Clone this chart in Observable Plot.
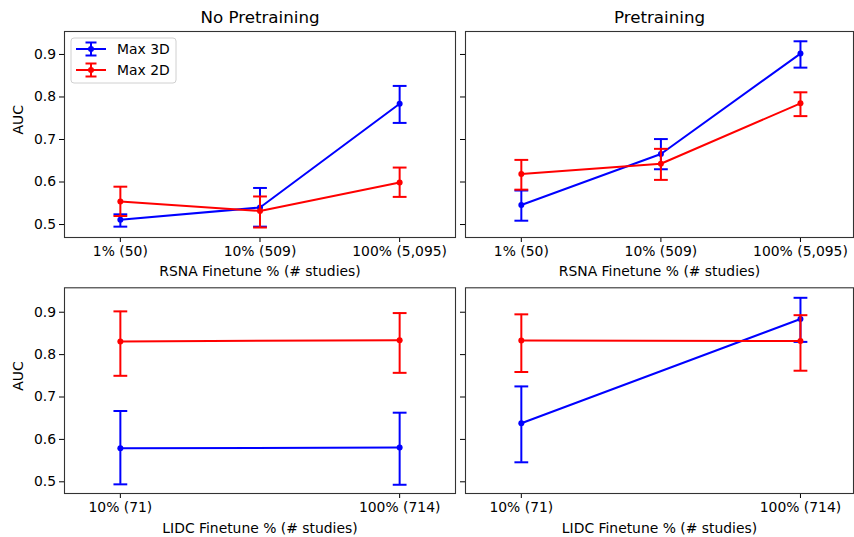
<!DOCTYPE html>
<html><head><meta charset="utf-8">
<script src="https://cdn.jsdelivr.net/npm/d3@7"></script>
<script src="https://cdn.jsdelivr.net/npm/@observablehq/plot@0.6"></script>
<style>
body{margin:0;background:#fff;}
#chart{position:relative;width:854px;height:537px;font-family:"DejaVu Sans",sans-serif;}
#chart > .panel{position:absolute;}
</style></head><body><div id="chart"></div>
<script>
// ---- data ----
const rsnaTicks = ["1% (50)", "10% (509)", "100% (5,095)"];
const lidcTicks = ["10% (71)", "100% (714)"];
const yTicks = [0.5, 0.6, 0.7, 0.8, 0.9];
const seriesNames = ["Max 3D", "Max 2D"];
const seriesColors = ["#0000ff", "#ff0000"];

// RSNA, No Pretraining
const rsnaNoPre3D_mean = [0.511, 0.540, 0.784];
const rsnaNoPre3D_lo   = [0.495, 0.495, 0.739];
const rsnaNoPre3D_hi   = [0.524, 0.586, 0.826];
const rsnaNoPre2D_mean = [0.554, 0.532, 0.599];
const rsnaNoPre2D_lo   = [0.520, 0.493, 0.565];
const rsnaNoPre2D_hi   = [0.589, 0.566, 0.634];
// RSNA, Pretraining
const rsnaPre3D_mean = [0.546, 0.666, 0.902];
const rsnaPre3D_lo   = [0.509, 0.630, 0.869];
const rsnaPre3D_hi   = [0.580, 0.701, 0.931];
const rsnaPre2D_mean = [0.619, 0.643, 0.785];
const rsnaPre2D_lo   = [0.582, 0.605, 0.755];
const rsnaPre2D_hi   = [0.652, 0.678, 0.811];
// LIDC, No Pretraining
const lidcNoPre3D_mean = [0.579, 0.581];
const lidcNoPre3D_lo   = [0.494, 0.493];
const lidcNoPre3D_hi   = [0.667, 0.663];
const lidcNoPre2D_mean = [0.831, 0.834];
const lidcNoPre2D_lo   = [0.750, 0.757];
const lidcNoPre2D_hi   = [0.902, 0.898];
// LIDC, Pretraining
const lidcPre3D_mean = [0.638, 0.884];
const lidcPre3D_lo   = [0.546, 0.830];
const lidcPre3D_hi   = [0.725, 0.934];
const lidcPre2D_mean = [0.833, 0.832];
const lidcPre2D_lo   = [0.759, 0.762];
const lidcPre2D_hi   = [0.895, 0.893];

// ---- helpers ----
function rows(mean, lo, hi) {
  return mean.map((m, i) => ({x: i, mean: m, lo: lo[i], hi: hi[i]}));
}
const capSymbol = {
  draw(ctx, size) {
    const r = Math.sqrt(size / Math.PI);
    ctx.moveTo(-r, 0); ctx.lineTo(r, 0);
  }
};

function panel(o) {
  const marks = [Plot.frame({stroke: "#333", strokeWidth: 1.1})];
  o.series.forEach((data, k) => {
    const c = seriesColors[k];
    marks.push(
      Plot.ruleX(data, {x: "x", y1: "lo", y2: "hi", stroke: c, strokeWidth: 2}),
      Plot.dot(data, {x: "x", y: "lo", symbol: capSymbol, r: 6.9, stroke: c, strokeWidth: 2, fill: "none"}),
      Plot.dot(data, {x: "x", y: "hi", symbol: capSymbol, r: 6.9, stroke: c, strokeWidth: 2, fill: "none"}),
      Plot.line(data, {x: "x", y: "mean", stroke: c, strokeWidth: 2}),
      Plot.dot(data, {x: "x", y: "mean", r: 3, fill: c})
    );
  });
  if (o.title) marks.push(Plot.text([o.title], {text: d => d, frameAnchor: "top", lineAnchor: "middle", dy: -14, fontSize: 16.7}));
  marks.push(Plot.text([o.xLabel], {text: d => d, frameAnchor: "bottom", lineAnchor: "middle", dy: o.xLabelDy}));
  if (o.showY) marks.push(Plot.text(["AUC"], {text: d => d, frameAnchor: "left", lineAnchor: "middle", dx: -45.5, rotate: -90}));
  const svg = Plot.plot({
    width: o.width, height: o.height,
    marginLeft: o.mL, marginRight: o.mR, marginTop: o.mT, marginBottom: o.mB,
    style: {fontFamily: "DejaVu Sans", fontSize: "13.9px", background: "transparent", color: "black", overflow: "visible"},
    x: {domain: o.xDomain, ticks: d3.range(o.ticks.length), tickFormat: i => o.ticks[i], tickSize: 5, tickPadding: 3.5, label: null},
    y: {domain: o.yDomain, ticks: yTicks, tickFormat: o.showY ? (d => d.toFixed(1)) : (() => ""), tickSize: 5, tickPadding: 3.5, label: null},
    marks
  });
  svg.classList.add("panel");
  svg.style.left = o.left + "px";
  svg.style.top = o.top + "px";
  svg.style.position = "absolute";
  return svg;
}

const chart = document.getElementById("chart");
const topY = [0.4695, 0.954];
const botY = [0.4724, 0.9576];

chart.appendChild(panel({
  left: 0, top: 0, width: 460, height: 280, mL: 64, mR: 5, mT: 31, mB: 43,
  xDomain: [-0.4, 2.4], yDomain: topY, ticks: rsnaTicks, showY: true,
  title: "No Pretraining", xLabel: "RSNA Finetune % (# studies)", xLabelDy: 34,
  series: [rows(rsnaNoPre3D_mean, rsnaNoPre3D_lo, rsnaNoPre3D_hi), rows(rsnaNoPre2D_mean, rsnaNoPre2D_lo, rsnaNoPre2D_hi)]
}));
chart.appendChild(panel({
  left: 460, top: 0, width: 394, height: 280, mL: 5, mR: 1, mT: 31, mB: 43,
  xDomain: [-0.4, 2.38], yDomain: topY, ticks: rsnaTicks, showY: false,
  title: "Pretraining", xLabel: "RSNA Finetune % (# studies)", xLabelDy: 34,
  series: [rows(rsnaPre3D_mean, rsnaPre3D_lo, rsnaPre3D_hi), rows(rsnaPre2D_mean, rsnaPre2D_lo, rsnaPre2D_hi)]
}));
chart.appendChild(panel({
  left: 0, top: 280, width: 460, height: 257, mL: 64, mR: 5, mT: 7.3, mB: 44,
  xDomain: [-0.2, 1.2], yDomain: botY, ticks: lidcTicks, showY: true,
  title: null, xLabel: "LIDC Finetune % (# studies)", xLabelDy: 35,
  series: [rows(lidcNoPre3D_mean, lidcNoPre3D_lo, lidcNoPre3D_hi), rows(lidcNoPre2D_mean, lidcNoPre2D_lo, lidcNoPre2D_hi)]
}));
chart.appendChild(panel({
  left: 460, top: 280, width: 394, height: 257, mL: 5, mR: 1, mT: 7.3, mB: 44,
  xDomain: [-0.2, 1.19], yDomain: botY, ticks: lidcTicks, showY: false,
  title: null, xLabel: "LIDC Finetune % (# studies)", xLabelDy: 35,
  series: [rows(lidcPre3D_mean, lidcPre3D_lo, lidcPre3D_hi), rows(lidcPre2D_mean, lidcPre2D_lo, lidcPre2D_hi)]
}));

// ---- legend (top-left panel) ----
const ns = "http://www.w3.org/2000/svg";
const leg = document.createElementNS(ns, "svg");
leg.setAttribute("width", 108); leg.setAttribute("height", 48);
leg.style.position = "absolute"; leg.style.left = "70px"; leg.style.top = "37px";
function el(tag, attrs, parent) {
  const e = document.createElementNS(ns, tag);
  for (const k in attrs) e.setAttribute(k, attrs[k]);
  parent.appendChild(e); return e;
}
el("rect", {x: 1, y: 1, width: 105, height: 45, rx: 3, fill: "white", "fill-opacity": 0.8, stroke: "#d0d0d0"}, leg);
seriesNames.forEach((name, k) => {
  const c = seriesColors[k];
  const cy = 12 + k * 21;
  el("line", {x1: 6, x2: 36, y1: cy, y2: cy, stroke: c, "stroke-width": 2}, leg);
  el("line", {x1: 21, x2: 21, y1: cy - 6.5, y2: cy + 6.5, stroke: c, "stroke-width": 2}, leg);
  el("line", {x1: 15.5, x2: 26.5, y1: cy - 6.5, y2: cy - 6.5, stroke: c, "stroke-width": 2}, leg);
  el("line", {x1: 15.5, x2: 26.5, y1: cy + 6.5, y2: cy + 6.5, stroke: c, "stroke-width": 2}, leg);
  el("circle", {cx: 21, cy: cy, r: 3, fill: c}, leg);
  const t = el("text", {x: 47, y: cy, "dominant-baseline": "central", "font-family": "DejaVu Sans", "font-size": "13.9px", fill: "black"}, leg);
  t.textContent = name;
});
chart.appendChild(leg);
</script>
</body></html>
